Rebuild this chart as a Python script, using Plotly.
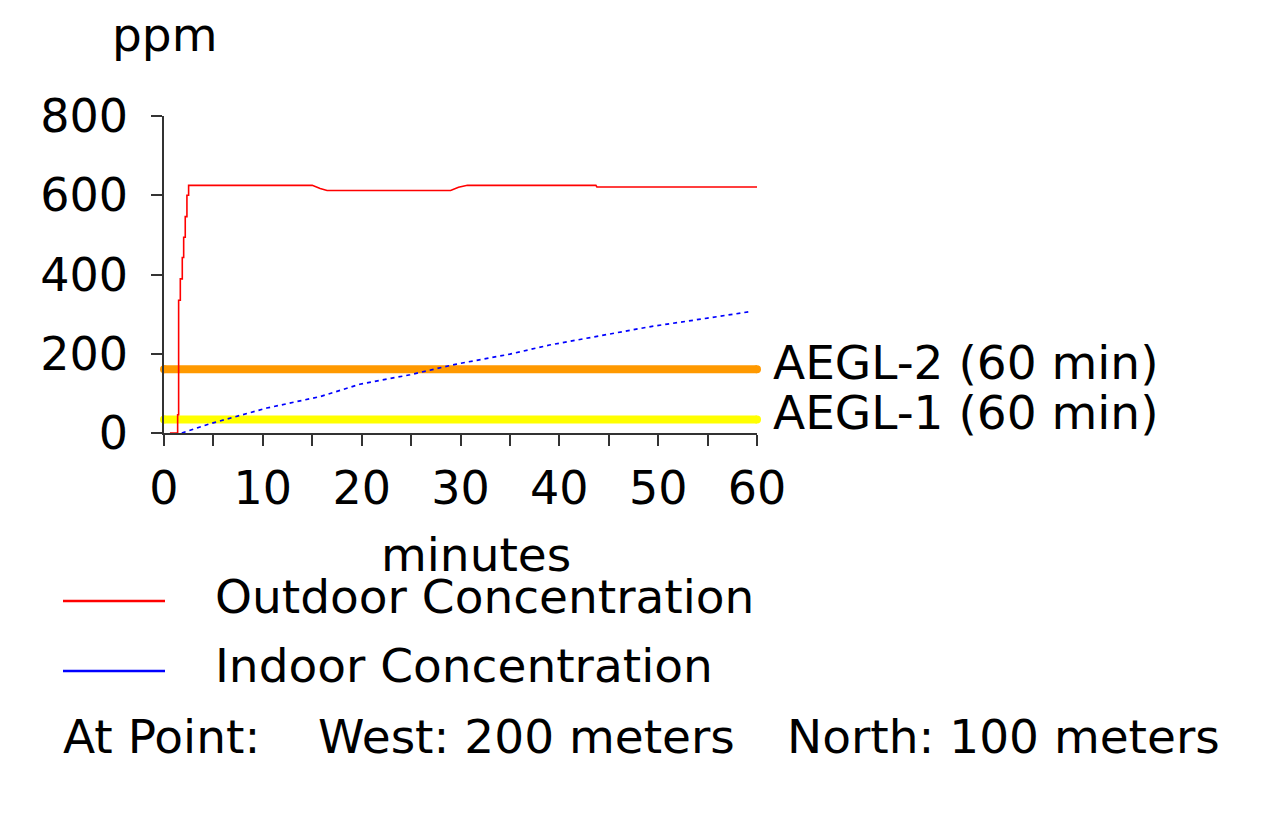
import plotly.graph_objects as go

# Outdoor concentration (red)
outdoor_min = [0.6, 1.38, 1.38, 1.48, 1.48, 1.65, 1.65, 1.85, 1.85, 1.99, 1.99,
               2.15, 2.15, 2.32, 2.32, 2.49, 2.49, 15.0, 15.8, 16.5, 29.0, 29.8,
               30.7, 43.7, 43.8, 60.0]
outdoor_ppm = [0, 0, 46, 46, 335, 335, 389, 389, 443, 443, 494,
               494, 546, 546, 600, 600, 625, 625, 617, 612, 612, 620,
               625, 625, 621, 621]

# Indoor concentration (blue dotted)
indoor_min = [1.8, 4.6, 10.4, 15.8, 19.8, 24.9, 29.6, 35.0, 39.0, 45.0, 49.1, 55.0, 59.5]
indoor_ppm = [0, 23, 63, 92, 123, 147, 174, 199, 222, 249, 268, 290, 307]

# AEGL levels (60 min)
aegl_min = [0, 60]
aegl1_ppm = 34
aegl2_ppm = 161

x_tickvals = [0, 10, 20, 30, 40, 50, 60]
y_tickvals = [0, 200, 400, 600, 800]

FONT = "DejaVu Sans"
FS = 46      # tick labels
FS_TXT = 47  # other texts

# page body has an 8px margin; work in window pixels and convert
OFF = 8
W, H = 1288 - 2 * OFF, 819 - 2 * OFF
PLOT_L, PLOT_R, PLOT_T, PLOT_B = 164, 757, 116, 433   # window pixels
L = PLOT_L - OFF
T = PLOT_T - OFF
R = W - (PLOT_R - OFF)
B = H - (PLOT_B - OFF)
PW = PLOT_R - PLOT_L
PH = PLOT_B - PLOT_T


def px_x(px):
    return (px - PLOT_L) / PW


def px_y(py):
    return (PLOT_B - py) / PH


fig = go.Figure()

fig.add_trace(go.Scatter(
    x=aegl_min, y=[aegl2_ppm] * 2, mode='lines+markers',
    line=dict(color='#FF9900', width=8), marker=dict(size=8, color='#FF9900'),
    cliponaxis=False, hoverinfo='skip'
))
fig.add_trace(go.Scatter(
    x=aegl_min, y=[aegl1_ppm] * 2, mode='lines+markers',
    line=dict(color='#FFFF00', width=8), marker=dict(size=8, color='#FFFF00'),
    cliponaxis=False, hoverinfo='skip'
))
fig.add_trace(go.Scatter(
    x=outdoor_min, y=outdoor_ppm, mode='lines',
    line=dict(color='#FF0000', width=1.6), name='Outdoor Concentration'
))
fig.add_trace(go.Scatter(
    x=indoor_min, y=indoor_ppm, mode='lines',
    line=dict(color='#0000FF', width=1.7, dash='4px,4px'), name='Indoor Concentration'
))

axis_common = dict(
    showline=True, linecolor='#333333', linewidth=1.5,
    ticks='outside', ticklen=11, tickwidth=1.5, tickcolor='#333333',
    showgrid=False, zeroline=False,
    tickfont=dict(family=FONT, size=FS, color='black'),
)

fig.update_xaxes(range=[0, 60], tickvals=x_tickvals, ticklabelstandoff=3,
                 minor=dict(dtick=5, ticks='outside', ticklen=11, tickwidth=1.5,
                            tickcolor='#333333'),
                 **axis_common)
fig.update_yaxes(range=[0, 800], tickvals=y_tickvals, ticklabelstandoff=14,
                 **axis_common)

annotations = []


def add_text(text, px, py, xanchor='left'):
    annotations.append(dict(
        text=text, x=px_x(px), y=px_y(py), xref='paper', yref='paper',
        xanchor=xanchor, yanchor='middle', showarrow=False,
        font=dict(family=FONT, size=FS_TXT, color='black')
    ))


add_text('ppm', 164, 34, xanchor='center')
add_text('minutes', 476, 554, xanchor='center')
add_text('AEGL-2 (60 min)', 771, 362)
add_text('AEGL-1 (60 min)', 771, 412)
add_text('Outdoor Concentration', 213, 596)
add_text('Indoor Concentration', 213, 665)
add_text('At Point:', 61, 736)
add_text('West: 200 meters', 316, 736)
add_text('North: 100 meters', 785, 736)

# legend line samples
shapes = [
    dict(type='line', xref='paper', yref='paper', x0=px_x(63), x1=px_x(165),
         y0=px_y(601), y1=px_y(601), line=dict(color='#FF0000', width=2.5)),
    dict(type='line', xref='paper', yref='paper', x0=px_x(63), x1=px_x(165),
         y0=px_y(671), y1=px_y(671), line=dict(color='#0000FF', width=2.5)),
]

fig.update_layout(
    width=W, height=H,
    margin=dict(l=L, r=R, t=T, b=B),
    paper_bgcolor='white', plot_bgcolor='white',
    showlegend=False,
    annotations=annotations,
    shapes=shapes,
    font=dict(family=FONT, size=FS, color='black'),
)

fig.write_html("out.html")
